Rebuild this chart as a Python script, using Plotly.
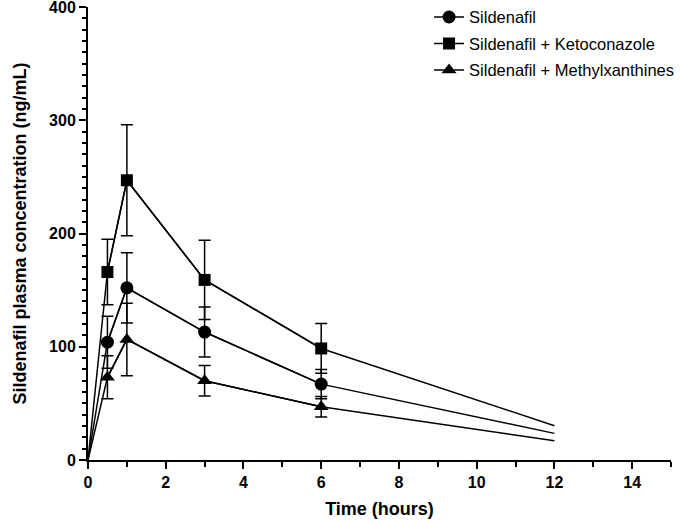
import plotly.graph_objects as go

time = [0, 0.5, 1, 3, 6, 12]
names = ["Sildenafil", "Sildenafil + Ketoconazole", "Sildenafil + Methylxanthines"]
symbols = ["circle", "square", "triangle-up"]
sild = [0, 104, 152, 113, 67, 23.5]
sild_sd = [0, 23, 31, 22, 13, 0]
keto = [0, 166, 247, 159, 98.5, 30.3]
keto_sd = [0, 29, 49, 35, 22, 0]
meth = [0, 73, 106.5, 70, 47, 17]
meth_sd = [0, 19, 32, 13.5, 9, 0]

series = [sild, keto, meth]
sds = [sild_sd, keto_sd, meth_sd]

fig = go.Figure()
for i, (name, sym, ys, sd) in enumerate(zip(names, symbols, series, sds)):
    fig.add_trace(go.Scatter(x=time, y=ys, mode="lines", showlegend=False,
                             line=dict(color="black", width=1.5), cliponaxis=False,
                             hoverinfo="skip"))
    xm = time[1:-1]
    ym = ys[1:-1]
    sm = sd[1:-1]
    fig.add_trace(go.Scatter(x=xm, y=ym, mode="lines+markers", name=name,
                             legendgroup=f"g{i}",
                             line=dict(color="black", width=1.5),
                             marker=dict(symbol=sym, color="black", size=13 if sym != "square" else 12),
                             error_y=dict(type="data", array=sm, visible=True,
                                          color="black", thickness=1.5, width=6),
                             cliponaxis=False))

font_family = "Liberation Sans, Arial, sans-serif"
fig.update_layout(
    width=685, height=520,
    margin=dict(l=88, r=14, t=7, b=60, autoexpand=False),
    plot_bgcolor="white", paper_bgcolor="white",
    font=dict(family=font_family, color="black"),
    legend=dict(x=0.585, y=1.016, xanchor="left", yanchor="top",
                font=dict(size=16.5, family=font_family, color="black"), tracegroupgap=2,
                bgcolor="rgba(0,0,0,0)", itemwidth=30),
    showlegend=True,
)
fig.update_xaxes(range=[0, 15], tickvals=[0, 2, 4, 6, 8, 10, 12, 14], automargin=False,
                 showline=True, linecolor="black", linewidth=2,
                 ticks="outside", ticklen=7, tickwidth=2, tickcolor="black",
                 ticklabeloverflow="allow",
                 minor=dict(dtick=1, ticks="outside", ticklen=5, tickwidth=2, tickcolor="black", showgrid=False),
                 showgrid=False, zeroline=False,
                 tickfont=dict(size=16, family=font_family, weight="bold", color="black"),
                 title=dict(text="<b>Time (hours)</b>", font=dict(size=18, family=font_family, color="black"), standoff=12))
fig.update_yaxes(range=[0, 400], tickvals=[0, 100, 200, 300, 400], automargin=False,
                 showline=True, linecolor="black", linewidth=2,
                 ticks="outside", ticklen=7, tickwidth=2, tickcolor="black",
                 ticklabeloverflow="allow",
                 minor=dict(dtick=10, ticks="outside", ticklen=4, tickwidth=1.5, tickcolor="black", showgrid=False),
                 showgrid=False, zeroline=False,
                 tickfont=dict(size=16, family=font_family, weight="bold", color="black"),
                 title=dict(text="<b>Sildenafil plasma concentration (ng/mL)</b>", font=dict(size=18, family=font_family, color="black"), standoff=18))

fig.write_html("out.html", config={"displayModeBar": False, "responsive": False},
               post_script="document.body.style.margin='0';document.body.style.overflow='hidden';")
